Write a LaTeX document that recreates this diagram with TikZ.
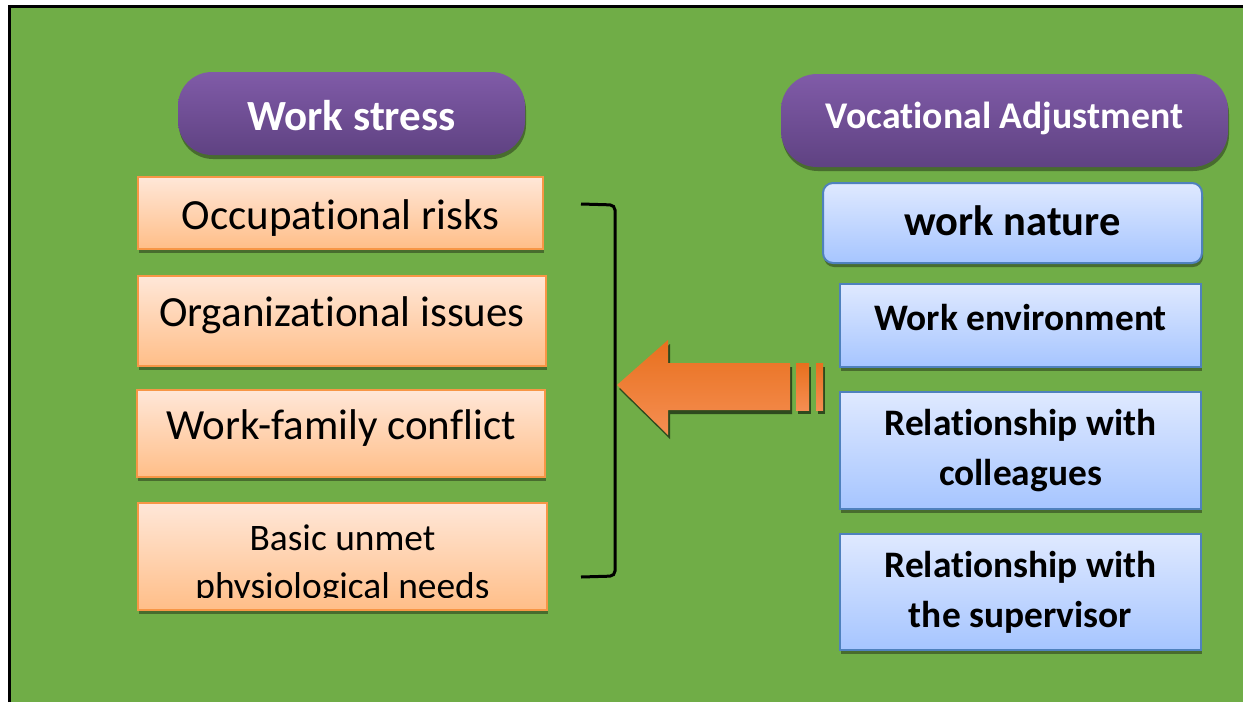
\documentclass[tikz,border=0pt]{standalone}
\usepackage{fontspec}
\setmainfont{Carlito}[Ligatures=NoCommon]
\usetikzlibrary{positioning,shadows}

\definecolor{bggreen}{RGB}{112,173,71}
\definecolor{shadowgreen}{RGB}{72,108,46}
\definecolor{arrowshadow}{RGB}{46,74,30}
\definecolor{purpletop}{RGB}{128,91,168}
\definecolor{purplebot}{RGB}{95,66,130}
\definecolor{peachtop}{RGB}{255,231,216}
\definecolor{peachbot}{RGB}{255,190,136}
\definecolor{peachline}{RGB}{247,150,70}
\definecolor{skytop}{RGB}{223,233,255}
\definecolor{skybot}{RGB}{166,197,255}
\definecolor{skyline}{RGB}{79,129,189}
\definecolor{arrowtop}{RGB}{232,112,30}
\definecolor{arrowbot}{RGB}{245,142,82}

\tikzset{
  boxshadow/.style={drop shadow={shadow xshift=1pt, shadow yshift=-4pt, fill=shadowgreen, opacity=1}},
  heading/.style={boxshadow, top color=purpletop, bottom color=purplebot, text=white, inner sep=0pt, font=\bfseries\fontsize{43}{50}\selectfont},
  stressbox/.style={boxshadow, draw=peachline, line width=2pt, top color=peachtop, bottom color=peachbot, inner sep=0pt, align=center, font=\fontsize{43}{50}\selectfont},
  adjbox/.style={boxshadow, draw=skyline, line width=2pt, top color=skytop, bottom color=skybot, inner sep=0pt, align=center, font=\bfseries\fontsize{37.4}{50}\selectfont},
  lift/.style={text height=#1, text depth=0pt}
}

\begin{document}
\begin{tikzpicture}[x=1pt, y=-1pt]

\useasboundingbox (0,0) rectangle (1243,702);
\fill[white] (0,0) rectangle (1243,702);
\fill[bggreen] (9,6) rectangle (1243,702);
\draw[line width=3pt] (9,702) -- (9,6) -- (1243,6);

% headings
\node[heading, rounded corners=34pt, minimum width=347pt, minimum height=83pt, lift=33pt] (stress) at (351.5,113.5) {Work stress};
\node[heading, rounded corners=36pt, minimum width=447pt, minimum height=93pt, lift=15pt, font=\bfseries\fontsize{37.7}{44}\selectfont] (adjust) at (1004.5,120.5) {Vocational Adjustment};

% work stress factors
\node[stressbox, minimum width=405pt, minimum height=72pt, lift=32pt] (risks) at (340.5,213) {Occupational risks};
\node[stressbox, minimum width=408pt, minimum height=90pt, lift=10pt] (issues) at (342,321) {Organizational issues};
\node[stressbox, minimum width=408pt, minimum height=87pt, lift=11pt] (conflict) at (341,433.5) {Work-family conflict};
\node[stressbox, minimum width=409pt, minimum height=107pt] (needs) at (342.5,556.5) {};
\begin{scope}
  \clip (138,503) rectangle (547,597);
  \node[font=\fontsize{37.4}{48}\selectfont, align=center, anchor=base] at (342.5,598) {Basic unmet\\physiological needs};
\end{scope}

% adjustment factors
\node[adjbox, rounded corners=10pt, minimum width=379pt, minimum height=80pt, lift=24pt, font=\bfseries\fontsize{42.5}{48}\selectfont] (nature) at (1012.5,223) {work nature};
\node[adjbox, minimum width=361pt, minimum height=83pt, lift=9pt] (environ) at (1020.5,325.5) {Work environment};
\node[adjbox, minimum width=361pt, minimum height=117pt] (colleagues) at (1020.5,450.5) {Relationship with\\colleagues};
\node[adjbox, minimum width=361pt, minimum height=116pt] (supervisor) at (1020.5,592) {Relationship with\\the supervisor};

% bracket
\coordinate (brtop) at (581,204);
\coordinate (brbot) at (581,577);
\draw[line width=3pt, rounded corners=5pt] (brtop) -- (615,205) -- (615,576) -- (brbot);

% arrow
\coordinate (tip) at (617,385);
\fill[arrowshadow] ([shift={(2,4)}]tip) -- (670,344) -- (670,367) -- (792,367) -- (792,414) -- (670,414) -- (670,439) -- cycle;
\fill[arrowshadow] (798,367) rectangle (811,414);
\fill[arrowshadow] (818,367) rectangle (825,414);
\shade[top color=arrowtop, bottom color=arrowbot] (tip) -- (668,340) -- (668,363) -- (790,363) -- (790,410) -- (668,410) -- (668,435) -- cycle;
\shade[top color=arrowtop, bottom color=arrowbot] (796,363) rectangle (809,410);
\shade[top color=arrowtop, bottom color=arrowbot] (816,363) rectangle (823,410);

\end{tikzpicture}
\end{document}
